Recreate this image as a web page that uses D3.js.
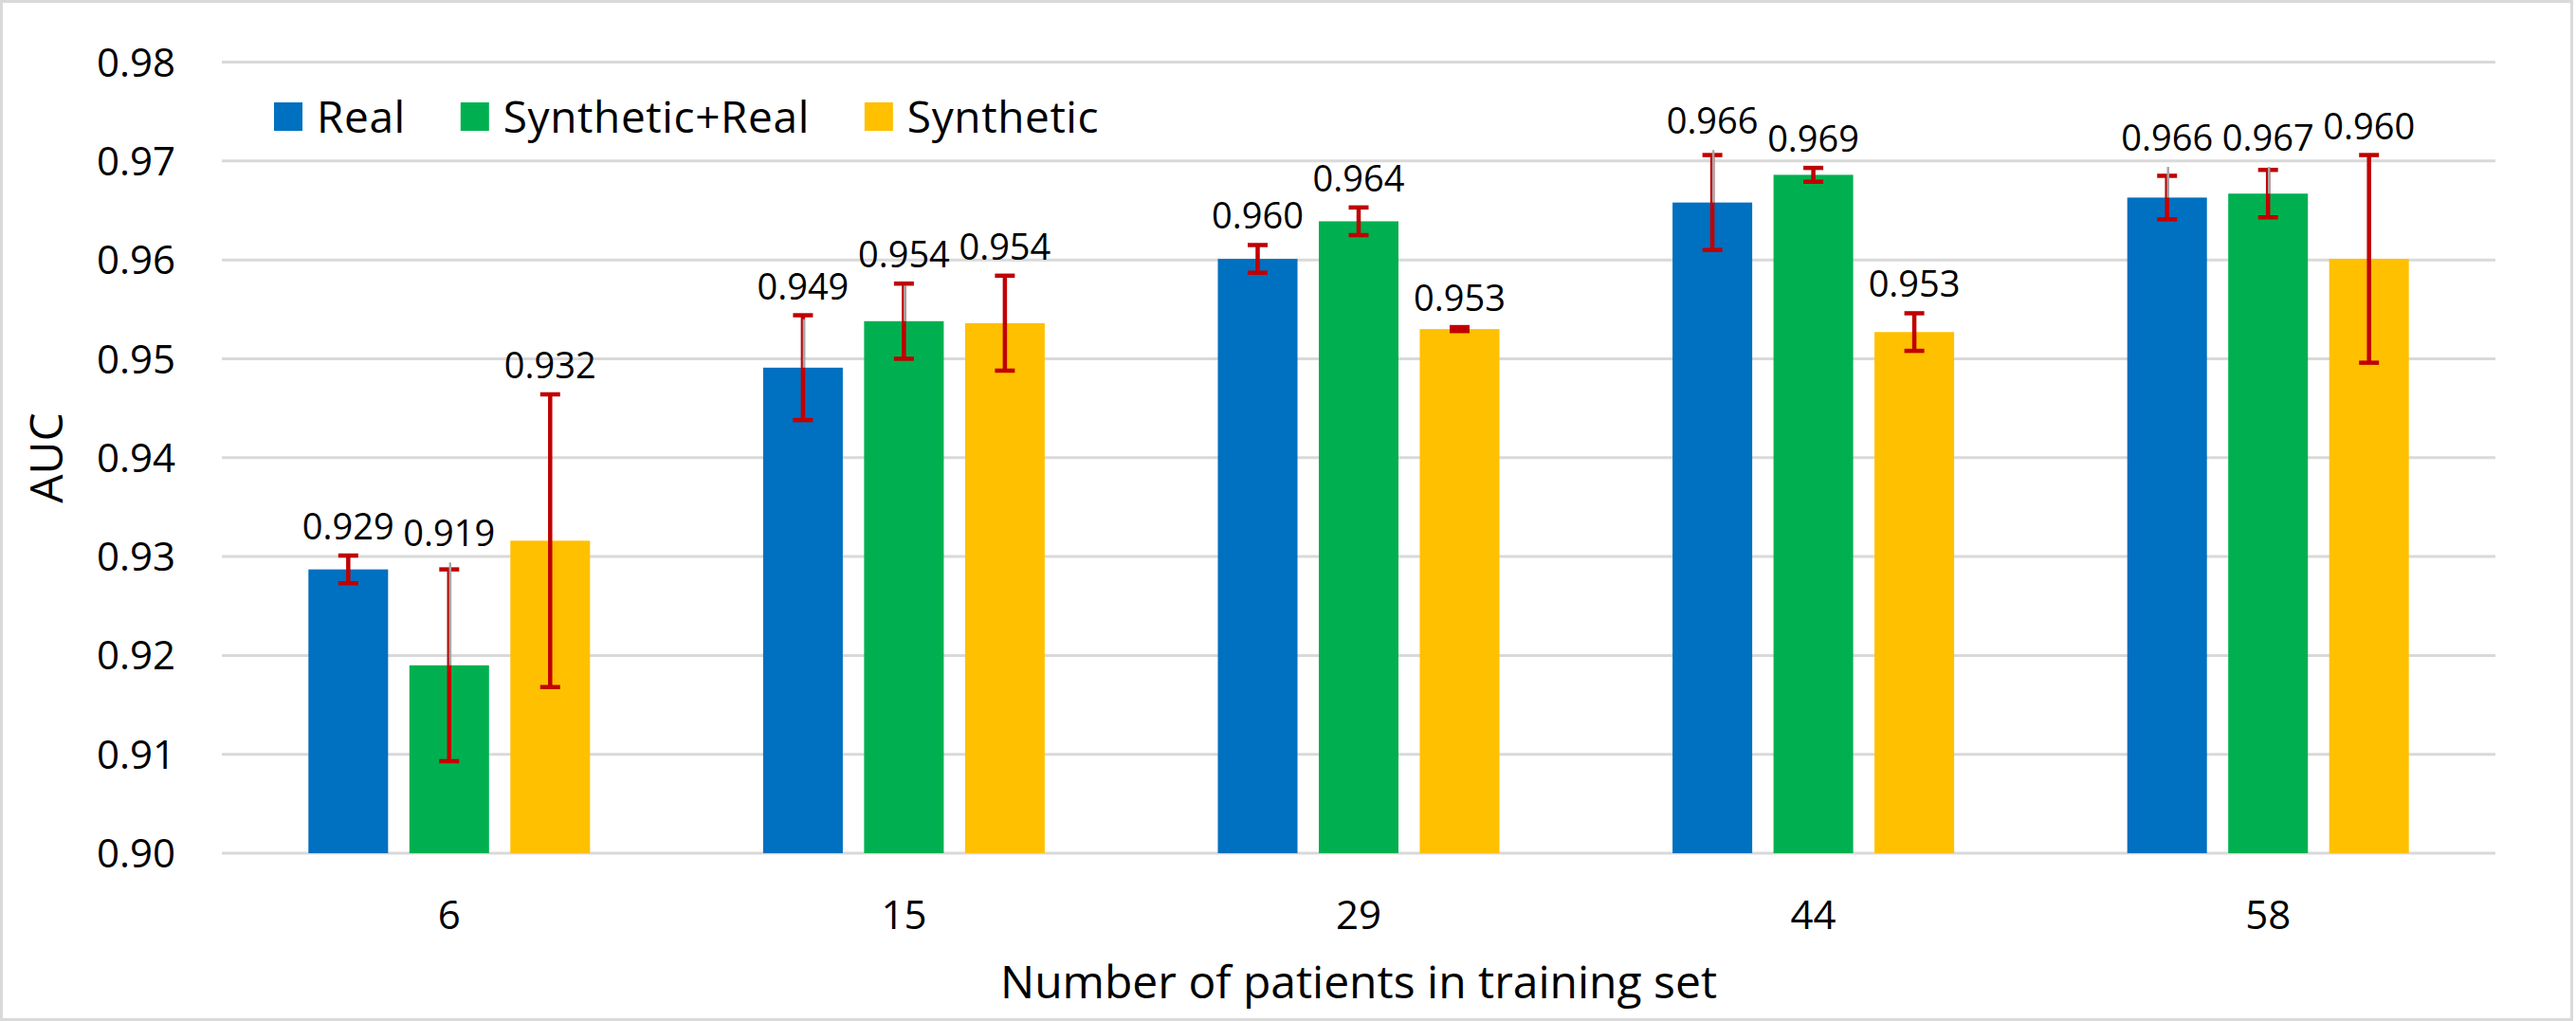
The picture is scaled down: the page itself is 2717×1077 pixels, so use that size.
<!DOCTYPE html>
<html>
<head>
<meta charset="utf-8">
<script src="https://cdn.jsdelivr.net/npm/d3@7"></script>
<style>
  html, body { margin: 0; padding: 0; background: #fff; }
  svg text { font-family: "Open Sans", "Noto Sans", sans-serif; fill: #000; }
</style>
</head>
<body>
<div id="chart"></div>
<script>
(function(){
  'use strict';

  // categories and series
  var patients = ["6", "15", "29", "44", "58"];
  var seriesNames = ["Real", "Synthetic+Real", "Synthetic"];
  var seriesColors = ["#0070C0", "#00B050", "#FFC000"];

  // mean AUC per series
  var real      = [0.9287, 0.9491, 0.9601, 0.9658, 0.9663];
  var synReal   = [0.9190, 0.9538, 0.9639, 0.9686, 0.9667];
  var synthetic = [0.9316, 0.9536, 0.9530, 0.9527, 0.9601];

  // +/- error (red bars)
  var realErr      = [0.0014, 0.0053, 0.0014, 0.0048, 0.0022];
  var synRealErr   = [0.0097, 0.0038, 0.0014, 0.0007, 0.0024];
  var syntheticErr = [0.0148, 0.0048, 0.0002, 0.0019, 0.0105];

  // upper end of the thin grey error bars (null = none)
  var realGrey      = [null, 0.9540, null, 0.9711, 0.9694];
  var synRealGrey   = [0.9294, 0.9574, null, null, 0.9694];
  var syntheticGrey = [null, null, null, null, null];

  var yTicks = [0.90, 0.91, 0.92, 0.93, 0.94, 0.95, 0.96, 0.97, 0.98];

  var values = [real, synReal, synthetic];
  var errs = [realErr, synRealErr, syntheticErr];
  var greys = [realGrey, synRealGrey, syntheticGrey];

  var W = 2717, H = 1077;
  var left = 234, right = 2632, top = 65.5, bottom = 900;

  var svg = d3.select("#chart").append("svg")
    .attr("width", W).attr("height", H);

  svg.append("rect")
    .attr("x", 1.5).attr("y", 1.5)
    .attr("width", W - 6).attr("height", H - 3)
    .attr("fill", "#fff").attr("stroke", "#D9D9D9").attr("stroke-width", 3);

  var x0 = d3.scaleBand().domain(patients).range([left, right]).padding(0);
  var x1 = d3.scaleBand().domain(d3.range(3)).range([-148.5, 148.5]).paddingInner(0.211).paddingOuter(0);
  var y = d3.scaleLinear().domain([0.90, 0.98]).range([bottom, top]);

  // gridlines
  svg.append("g").selectAll("line").data(yTicks).enter().append("line")
    .attr("x1", left).attr("x2", right)
    .attr("y1", function(d){ return y(d); }).attr("y2", function(d){ return y(d); })
    .attr("stroke", "#D9D9D9").attr("stroke-width", 3);

  // y tick labels
  svg.append("g").selectAll("text").data(yTicks).enter().append("text")
    .attr("x", 185).attr("y", function(d){ return y(d); })
    .attr("dy", "0.36em")
    .attr("text-anchor", "end")
    .style("font-size", "42px")
    .text(function(d){ return d.toFixed(2); });

  // x tick labels
  svg.append("g").selectAll("text").data(patients).enter().append("text")
    .attr("x", function(d){ return x0(d) + x0.bandwidth() / 2; })
    .attr("y", 980)
    .attr("text-anchor", "middle")
    .style("font-size", "42px")
    .text(function(d){ return d; });

  // bars, error bars, labels
  values.forEach(function(vals, s){
    var g = svg.append("g");
    var cx = function(i){ return x0(patients[i]) + x0.bandwidth() / 2 + x1(s) + x1.bandwidth() / 2; };

    g.selectAll("rect").data(vals).enter().append("rect")
      .attr("x", function(d, i){ return cx(i) - x1.bandwidth() / 2; })
      .attr("y", function(d){ return y(d); })
      .attr("width", x1.bandwidth())
      .attr("height", function(d){ return bottom - y(d); })
      .attr("fill", seriesColors[s]);

    vals.forEach(function(v, i){
      var e = errs[s][i];
      var hi = y(v + e), lo = y(v - e);
      g.append("line")
        .attr("x1", cx(i)).attr("x2", cx(i)).attr("y1", hi).attr("y2", lo)
        .attr("stroke", "#C00000").attr("stroke-width", 4.5);
      [hi, lo].forEach(function(yy){
        g.append("line")
          .attr("x1", cx(i) - 10.5).attr("x2", cx(i) + 10.5).attr("y1", yy).attr("y2", yy)
          .attr("stroke", "#C00000").attr("stroke-width", 4.5);
      });
      var gr = greys[s][i];
      if (gr !== null) {
        g.append("line")
          .attr("x1", cx(i) + 1).attr("x2", cx(i) + 1)
          .attr("y1", y(gr)).attr("y2", y(v))
          .attr("stroke", "#A6A6A6").attr("stroke-width", 2.5);
      }
      var topY = Math.min(hi, gr !== null ? y(gr) : hi);
      g.append("text")
        .attr("x", cx(i)).attr("y", topY - 17)
        .attr("text-anchor", "middle")
        .style("font-size", "38px")
        .text(v.toFixed(3));
    });
  });

  // legend
  var lg = svg.append("g");
  var lx = 289;
  seriesNames.forEach(function(name, s){
    lg.append("rect")
      .attr("x", lx).attr("y", 108).attr("width", 30).attr("height", 30)
      .attr("fill", seriesColors[s]);
    var t = lg.append("text")
      .attr("x", lx + 45).attr("y", 123)
      .attr("dy", "0.36em")
      .style("font-size", "46px")
      .style("letter-spacing", "0.6px")
      .text(name);
    lx = lx + 45 + t.node().getComputedTextLength() + 58;
  });

  // axis titles
  svg.append("text")
    .attr("transform", "translate(66,483) rotate(-90)")
    .attr("text-anchor", "middle")
    .style("font-size", "48px")
    .text("AUC");

  svg.append("text")
    .attr("x", (left + right) / 2).attr("y", 1053)
    .attr("text-anchor", "middle")
    .style("font-size", "48px")
    .text("Number of patients in training set");
})();
</script>
</body>
</html>
